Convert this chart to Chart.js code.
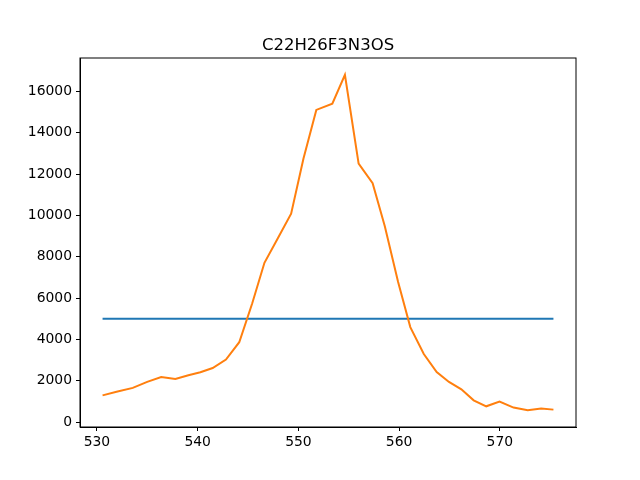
<!DOCTYPE html>
<html>
<head>
<meta charset="utf-8">
<script src="https://cdn.jsdelivr.net/npm/chart.js@4.4.0/dist/chart.umd.min.js"></script>
<style>
  html, body { margin: 0; padding: 0; background: #fff; }
  #wrap { width: 640px; height: 480px; }
</style>
</head>
<body>
<div id="wrap"><canvas id="chart" width="640" height="480"></canvas></div>
<script>
// title and data
const title = 'C22H26F3N3OS';
const xValues = [530.56, 531.95, 533.56, 534.99, 536.38, 537.79, 539.08, 540.27, 541.49, 542.81,
                 544.13, 545.42, 546.63, 547.96, 549.28, 550.50, 551.78, 553.37, 554.62, 555.98,
                 557.37, 558.58, 559.90, 561.11, 562.45, 563.73, 564.95, 566.18, 567.40, 568.65,
                 569.97, 571.36, 572.77, 574.10, 575.32];
const intensity = [1300, 1470, 1660, 1950, 2190, 2090, 2270, 2420, 2620, 3030,
                   3870, 5750, 7710, 8900, 10080, 12740, 15100, 15400, 16800, 12500,
                   11560, 9480, 6780, 4600, 3300, 2430, 1950, 1590, 1060, 770,
                   1000, 710, 580, 660, 610];
const threshold = 5000;
const xTicks = [530, 540, 550, 560, 570];
const yTicks = [0, 2000, 4000, 6000, 8000, 10000, 12000, 14000, 16000];

const orangeData = xValues.map((x, i) => ({ x: x, y: intensity[i] }));
const blueData = [
    { x: xValues[0], y: threshold },
    { x: xValues[xValues.length - 1], y: threshold }
];

const font = "'DejaVu Sans', sans-serif";

// frame around the plot area and the title centred on it
const framePlugin = {
    id: 'frame',
    afterDraw(chart) {
        const a = chart.chartArea;
        const ctx = chart.ctx;
        ctx.save();
        ctx.strokeStyle = '#000';
        ctx.lineWidth = 1;
        ctx.strokeRect(a.left, a.top, a.right - a.left, a.bottom - a.top);
        ctx.fillStyle = '#000';
        ctx.font = '16.5px ' + font;
        ctx.textAlign = 'center';
        ctx.textBaseline = 'alphabetic';
        ctx.fillText(title, (a.left + a.right) / 2, a.top - 8);
        ctx.restore();
    }
};

const ctx = document.getElementById('chart').getContext('2d');
const chart = new Chart(ctx, {
    type: 'scatter',
    data: {
        datasets: [
            {
                data: blueData,
                showLine: true,
                borderColor: '#1f77b4',
                borderWidth: 2,
                pointRadius: 0,
                order: 2
            },
            {
                data: orangeData,
                showLine: true,
                borderColor: '#ff7f0e',
                borderWidth: 2,
                pointRadius: 0,
                order: 1
            }
        ]
    },
    options: {
        responsive: false,
        animation: false,
        layout: { padding: { top: 58, right: 64, bottom: 0, left: 0 } },
        plugins: {
            legend: { display: false },
            tooltip: { enabled: false },
            title: { display: false }
        },
        scales: {
            x: {
                type: 'linear',
                min: 528.32,
                max: 577.56,
                afterBuildTicks: (axis) => { axis.ticks = xTicks.map(v => ({ value: v })); },
                afterFit: (axis) => { axis.height = 53; },
                grid: { drawOnChartArea: false, drawTicks: true, tickLength: 4, color: '#000' },
                border: { display: true, color: '#000' },
                ticks: { color: '#000', font: { family: font, size: 13.9 }, padding: 3, maxRotation: 0,
                         callback: (v) => String(v) }
            },
            y: {
                min: -230,
                max: 17610,
                afterBuildTicks: (axis) => { axis.ticks = yTicks.map(v => ({ value: v })); },
                afterFit: (axis) => { axis.width = 80; },
                grid: { drawOnChartArea: false, drawTicks: true, tickLength: 4, color: '#000' },
                border: { display: true, color: '#000' },
                ticks: { color: '#000', font: { family: font, size: 13.9 }, padding: 4,
                         callback: (v) => String(v) }
            }
        }
    },
    plugins: [framePlugin]
});
</script>
</body>
</html>
